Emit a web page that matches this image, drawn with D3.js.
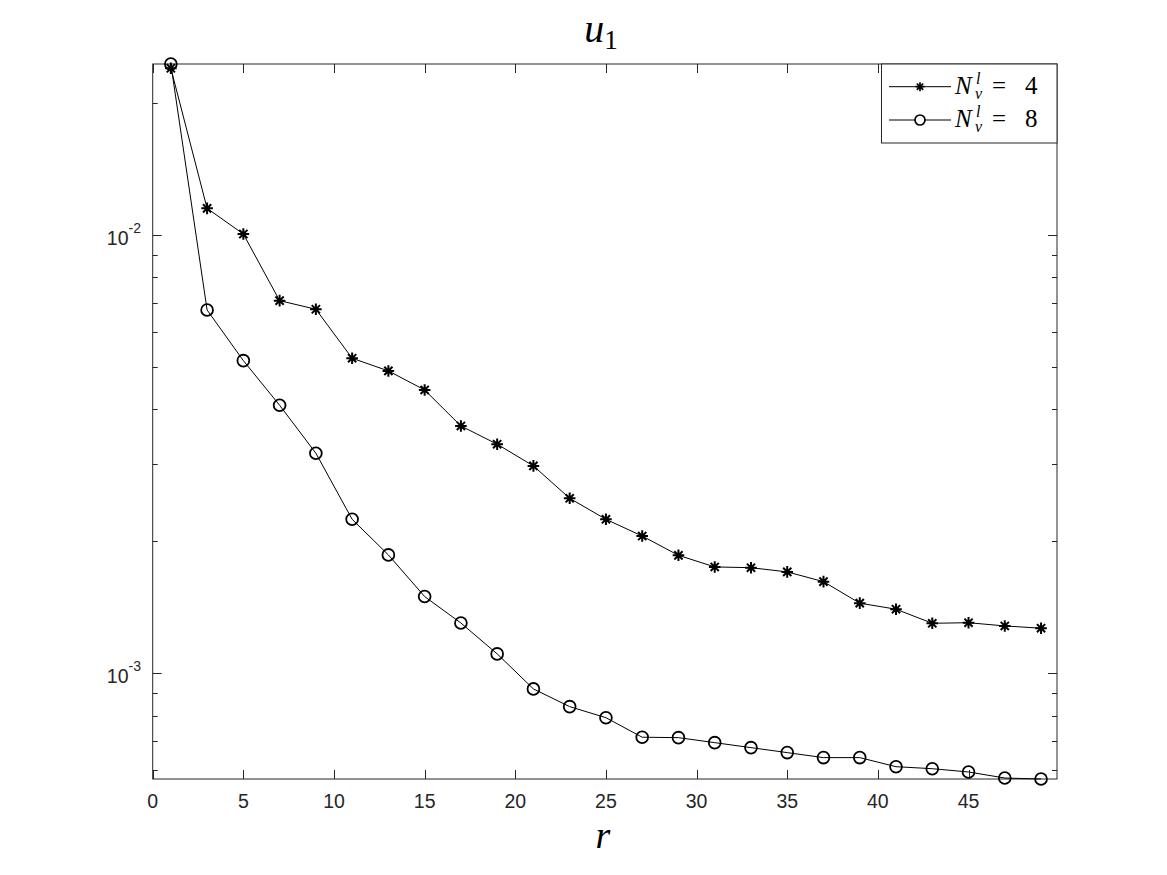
<!DOCTYPE html>
<html>
<head>
<meta charset="utf-8">
<script src="https://cdn.jsdelivr.net/npm/d3@7"></script>
<style>
  html, body { margin: 0; padding: 0; background: #ffffff; }
  svg { display: block; }
</style>
</head>
<body>
<svg id="chart" width="1167" height="875"></svg>
<script>
// ---- data ----
const rValues = [1,3,5,7,9,11,13,15,17,19,21,23,25,27,29,31,33,35,37,39,41,43,45,47,49];
const errNv4 = [0.02401,0.01150,0.01005,0.007081,0.006768,0.005233,0.004895,0.004429,0.003666,0.003331,
                0.002972,0.002507,0.002245,0.002056,0.001858,0.001748,0.001741,0.001703,0.001618,0.001445,
                0.001400,0.001300,0.001304,0.001282,0.001267];
const errNv8 = [0.02455,0.006743,0.005167,0.004088,0.003177,0.002245,0.001862,0.001496,0.001302,0.001107,
                0.0009209,0.0008391,0.0007917,0.0007145,0.0007129,0.0006944,0.0006765,0.0006590,0.0006419,0.0006419,
                0.0006120,0.0006056,0.0005952,0.0005767,0.0005737];
const xTickValues = [0,5,10,15,20,25,30,35,40,45];
const yMajorTicks = [1e-3, 1e-2];
const yMajorLabels = [["10","-3"],["10","-2"]];
const yMinorTicks = [6e-4,7e-4,8e-4,9e-4,2e-3,3e-3,4e-3,5e-3,6e-3,7e-3,8e-3,9e-3,2e-2];
const xDomainMax = 49.88;
const seriesNames = ["4","8"];

// ---- layout ----
const L = 152.7, R = 1057, T = 64, B = 779;
const axisColor = "#262626";
const svg = d3.select("#chart");

const x = d3.scaleLinear().domain([0, xDomainMax]).range([L, R]);
const allVals = errNv4.concat(errNv8);
const y = d3.scaleLog().domain(d3.extent(allVals)).range([B, T]);

svg.append("rect").attr("x", L).attr("y", T).attr("width", R - L).attr("height", B - T)
  .attr("fill", "#fff");

// ticks
const tickG = svg.append("g").attr("stroke", axisColor).attr("stroke-width", 1);
const majorLen = 9, minorLen = 5;
xTickValues.forEach(v => {
  const px = Math.round(x(v)) + 0.5;
  tickG.append("line").attr("x1", px).attr("x2", px).attr("y1", B).attr("y2", B - majorLen);
  tickG.append("line").attr("x1", px).attr("x2", px).attr("y1", T).attr("y2", T + majorLen);
});
yMajorTicks.forEach(v => {
  const py = Math.round(y(v)) + 0.5;
  tickG.append("line").attr("x1", L).attr("x2", L + majorLen).attr("y1", py).attr("y2", py);
  tickG.append("line").attr("x1", R).attr("x2", R - majorLen).attr("y1", py).attr("y2", py);
});
yMinorTicks.forEach(v => {
  const py = Math.round(y(v)) + 0.5;
  tickG.append("line").attr("x1", L).attr("x2", L + minorLen).attr("y1", py).attr("y2", py);
  tickG.append("line").attr("x1", R).attr("x2", R - minorLen).attr("y1", py).attr("y2", py);
});

svg.append("rect").attr("x", L).attr("y", T).attr("width", R - L).attr("height", B - T)
  .attr("fill", "none").attr("stroke", axisColor).attr("stroke-width", 1);

// tick labels
const lblFont = "'Liberation Sans', Arial, Helvetica, sans-serif";
svg.append("g").selectAll("text").data(xTickValues).join("text")
  .attr("x", d => x(d)).attr("y", 808)
  .attr("text-anchor", "middle")
  .attr("font-family", lblFont).attr("font-size", 19.5).attr("fill", "#262626")
  .text(d => d);

yMajorTicks.forEach((v, i) => {
  const t = svg.append("text")
    .attr("x", 141).attr("y", y(v) + 10)
    .attr("text-anchor", "end")
    .attr("font-family", lblFont).attr("font-size", 19.5).attr("fill", "#262626");
  t.append("tspan").text(yMajorLabels[i][0]);
  t.append("tspan").attr("dy", -12).attr("font-size", 14).text(yMajorLabels[i][1]);
});

// title & x-label
const mathFont = "'Liberation Serif', 'Times New Roman', serif";
const title = svg.append("text").attr("x", 601).attr("y", 42)
  .attr("text-anchor", "middle").attr("font-family", mathFont).attr("font-size", 40).attr("fill", "#000");
title.append("tspan").attr("font-style", "italic").text("u");
title.append("tspan").attr("dy", 7).attr("font-size", 27).text("1");

svg.append("text").attr("x", 603).attr("y", 848)
  .attr("text-anchor", "middle").attr("font-family", mathFont).attr("font-size", 38)
  .attr("font-style", "italic").attr("fill", "#000").text("r");

// markers
function starPath(cx, cy, s) {
  const d = s * Math.SQRT1_2;
  return `M${cx - s},${cy}L${cx + s},${cy}M${cx},${cy - s}L${cx},${cy + s}` +
         `M${cx - d},${cy - d}L${cx + d},${cy + d}M${cx - d},${cy + d}L${cx + d},${cy - d}`;
}

const line = d3.line().x(d => x(d[0])).y(d => y(d[1]));
const data4 = rValues.map((r, i) => [r, errNv4[i]]);
const data8 = rValues.map((r, i) => [r, errNv8[i]]);

const plot = svg.append("g");
plot.append("path").attr("d", line(data4)).attr("fill", "none").attr("stroke", "#000").attr("stroke-width", 1);
plot.append("path").attr("d", line(data8)).attr("fill", "none").attr("stroke", "#000").attr("stroke-width", 1);

plot.append("g").selectAll("path").data(data4).join("path")
  .attr("d", d => starPath(x(d[0]), y(d[1]), 5.8))
  .attr("stroke", "#000").attr("stroke-width", 2).attr("fill", "none");

plot.append("g").selectAll("circle").data(data8).join("circle")
  .attr("cx", d => x(d[0])).attr("cy", d => y(d[1])).attr("r", 5.9)
  .attr("stroke", "#000").attr("stroke-width", 1.8).attr("fill", "none");

// legend
const lg = svg.append("g");
lg.append("rect").attr("x", 881.5).attr("y", T).attr("width", R - 881.5).attr("height", 79)
  .attr("fill", "#fff").attr("stroke", axisColor).attr("stroke-width", 1);
const rows = [86.7, 120];
rows.forEach((cy, i) => {
  lg.append("line").attr("x1", 889).attr("x2", 951).attr("y1", cy).attr("y2", cy)
    .attr("stroke", "#000").attr("stroke-width", 1);
  if (i === 0) {
    lg.append("path").attr("d", starPath(920, cy, 4.5)).attr("stroke", "#000").attr("stroke-width", 1.7);
  } else {
    lg.append("circle").attr("cx", 920).attr("cy", cy).attr("r", 5)
      .attr("stroke", "#000").attr("stroke-width", 1.7).attr("fill", "#fff");
  }
  const base = cy + 7;
  lg.append("text").attr("x", 955).attr("y", base).attr("font-family", mathFont)
    .attr("font-size", 25).attr("font-style", "italic").text("N");
  lg.append("text").attr("x", 976).attr("y", cy - 3).attr("font-family", mathFont)
    .attr("font-size", 16).attr("font-style", "italic").text("l");
  lg.append("text").attr("x", 975).attr("y", cy + 12).attr("font-family", mathFont)
    .attr("font-size", 16).attr("font-style", "italic").text("v");
  lg.append("text").attr("x", 992).attr("y", base).attr("font-family", mathFont)
    .attr("font-size", 25).text("=");
  lg.append("text").attr("x", 1025).attr("y", base).attr("font-family", mathFont)
    .attr("font-size", 25).text(seriesNames[i]);
});
</script>
</body>
</html>
